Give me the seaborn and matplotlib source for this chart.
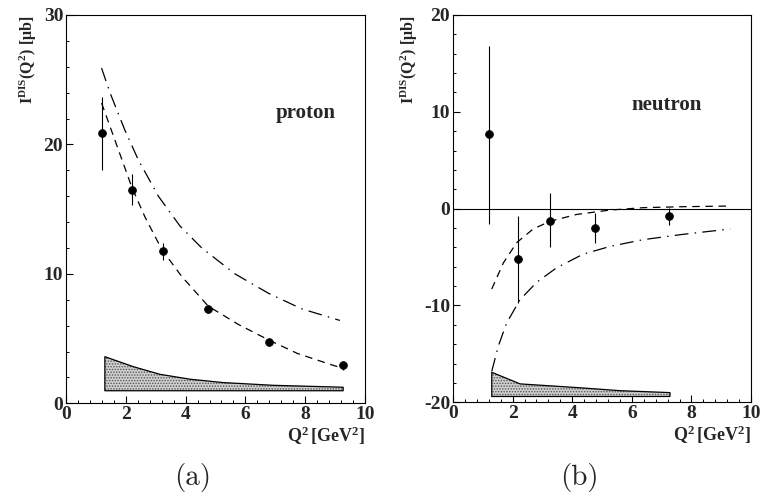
import numpy as np
import pandas as pd
import matplotlib
matplotlib.use("Agg")
import matplotlib.pyplot as plt
from matplotlib.ticker import MultipleLocator
import seaborn as sns

# ---------------- data ----------------
# proton
p_q2 = [1.2, 2.2, 3.25, 4.75, 6.8, 9.25]
p_val = [20.9, 16.5, 11.8, 7.3, 4.7, 2.95]
p_err_lo = [18.0, 15.3, 11.1, 7.0, 4.45, 2.6]
p_err_hi = [23.7, 17.7, 12.4, 7.6, 4.95, 3.3]

p_dash_x = [1.19, 1.75, 2.2, 2.64, 3.2, 3.87, 4.76, 5.76, 6.77, 7.74, 8.91, 9.2]
p_dash_y = [23.2, 19.6, 16.7, 14.4, 11.9, 9.8, 7.5, 6.1, 4.9, 3.85, 2.95, 2.75]

p_dd_x = [1.19, 1.47, 1.97, 2.42, 3.09, 3.81, 4.54, 5.65, 6.77, 7.88, 9.16]
p_dd_y = [25.9, 24.0, 21.1, 18.8, 16.0, 13.7, 12.0, 10.0, 8.5, 7.3, 6.4]

p_band_x = [1.3, 2.25, 3.14, 4.15, 5.26, 6.93, 9.27]
p_band_top = [3.6, 2.83, 2.24, 1.86, 1.6, 1.39, 1.24]
p_band_bot = [0.97, 0.97, 0.97, 0.97, 0.97, 0.97, 0.97]

# neutron
n_q2 = [1.22, 2.19, 3.26, 4.77, 7.24]
n_val = [7.7, -5.2, -1.3, -2.0, -0.75]
n_err_lo = [-1.6, -9.7, -4.0, -3.5, -1.7]
n_err_hi = [16.8, -0.8, 1.65, -0.4, 0.1]

n_dash_x = [1.3, 1.69, 2.14, 2.69, 3.26, 4.15, 5.26, 6.39, 7.73, 9.3]
n_dash_y = [-8.3, -5.6, -3.5, -2.1, -1.3, -0.6, -0.15, 0.1, 0.2, 0.27]

n_dd_x = [1.3, 1.52, 1.8, 2.25, 2.81, 3.48, 4.37, 5.27, 6.39, 7.73, 9.3]
n_dd_y = [-16.8, -14.2, -11.8, -9.4, -7.6, -6.1, -4.7, -3.9, -3.2, -2.65, -2.1]

n_band_x = [1.3, 2.25, 4.26, 5.6, 7.28]
n_band_top = [-16.9, -18.1, -18.5, -18.8, -19.0]
n_band_bot = [-19.4, -19.4, -19.4, -19.4, -19.4]

x_ticks = [0, 2, 4, 6, 8, 10]
p_yticks = [0, 10, 20, 30]
n_yticks = [-20, -10, 0, 10, 20]

# ---------------- style ----------------
sns.set_style("white")
plt.rcParams["font.family"] = ["Liberation Serif", "DejaVu Serif"]
plt.rcParams["font.weight"] = "bold"
plt.rcParams["axes.unicode_minus"] = False
plt.rcParams["mathtext.fontset"] = "custom"
plt.rcParams["mathtext.rm"] = "Liberation Serif:bold"
plt.rcParams["mathtext.it"] = "Liberation Serif:bold"
plt.rcParams["mathtext.bf"] = "Liberation Serif:bold"
plt.rcParams["hatch.linewidth"] = 0.7

fig = plt.figure(figsize=(7.62, 4.99), dpi=100)
axL = fig.add_axes([0.0866, 0.1918, 0.3924, 0.7782])
axR = fig.add_axes([0.5945, 0.1938, 0.3911, 0.7762])

DASH = (0, (6, 4.5))
DASHDOT = (0, (11, 5, 1.2, 5))


def style_axis(ax, ylim, yticks, name, name_pos):
    ax.set_xlim(0, 10)
    ax.set_ylim(*ylim)
    ax.set_xticks(x_ticks)
    ax.set_yticks(yticks)
    ax.xaxis.set_minor_locator(MultipleLocator(0.4))
    ax.yaxis.set_minor_locator(MultipleLocator(2))
    ax.tick_params(which="both", direction="in", top=False, right=False,
                   bottom=True, left=True, labelsize=14, pad=2, color="black")
    ax.tick_params(which="major", length=5, width=0.8)
    ax.tick_params(which="minor", length=2.5, width=0.7)
    for lab in ax.get_xticklabels() + ax.get_yticklabels():
        lab.set_fontweight("bold")
    for sp in ax.spines.values():
        sp.set_visible(True)
        sp.set_color("black")
        sp.set_linewidth(0.8)
    ax.set_xlabel("")
    ax.set_ylabel(r"$\mathrm{I^{DIS}(Q^2)\ [\mu b]}$", fontsize=11.5, loc="top", labelpad=3)
    ax.text(1.0, -0.085, r"$\mathrm{Q^2\,[GeV^2]}$", transform=ax.transAxes,
            ha="right", va="center", fontsize=13)
    ax.text(name_pos[0], name_pos[1], name, transform=ax.transAxes,
            ha="center", va="center", fontsize=15, fontweight="bold")


def draw(ax, qx, val, lo, hi, dx, dy, ddx, ddy, bx, btop, bbot):
    # band
    ax.fill_between(bx, bbot, btop, facecolor="#cfcfcf", edgecolor="#555555",
                    hatch="......", linewidth=0)
    ax.fill_between(bx, bbot, btop, facecolor="none", edgecolor="black", linewidth=0.9)
    # curves
    sns.lineplot(x=dx, y=dy, ax=ax, color="black", lw=0.9, linestyle=DASH,
                 sort=False, estimator=None)
    sns.lineplot(x=ddx, y=ddy, ax=ax, color="black", lw=0.9, linestyle=DASHDOT,
                 sort=False, estimator=None)
    # error bars + points
    ax.vlines(qx, lo, hi, color="black", lw=0.8)
    sns.scatterplot(x=qx, y=val, ax=ax, color="black", s=32, edgecolor="black",
                    linewidth=0.5, zorder=5)


draw(axL, p_q2, p_val, p_err_lo, p_err_hi, p_dash_x, p_dash_y, p_dd_x, p_dd_y,
     p_band_x, p_band_top, p_band_bot)
style_axis(axL, (0, 30), p_yticks, "proton", (0.80, 0.748))

axR.axhline(0, color="black", lw=0.8)
draw(axR, n_q2, n_val, n_err_lo, n_err_hi, n_dash_x, n_dash_y, n_dd_x, n_dd_y,
     n_band_x, n_band_top, n_band_bot)
style_axis(axR, (-20, 20), n_yticks, "neutron", (0.718, 0.768))

fig.text(193 / 762, 1 - 478 / 499, "(a)", family="cmr10", fontweight="normal",
         fontsize=21, ha="center", va="center")
fig.text(579 / 762, 1 - 478 / 499, "(b)", family="cmr10", fontweight="normal",
         fontsize=21, ha="center", va="center")

fig.savefig("out.png", dpi=100)
